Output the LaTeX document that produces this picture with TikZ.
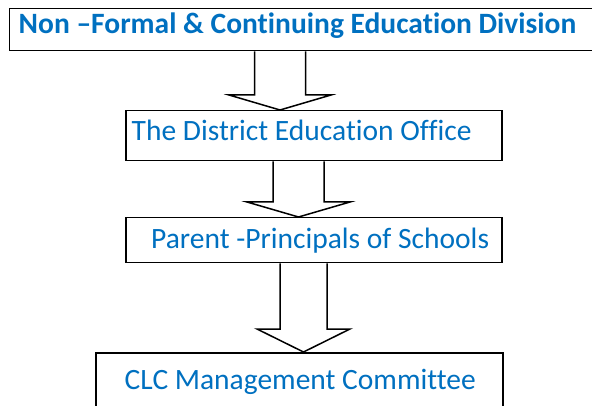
\documentclass[tikz,border=0pt]{standalone}
\usepackage{fontspec}
\setmainfont{Carlito}[Ligatures=NoCommon]
\usetikzlibrary{calc}
\usepackage{xcolor}
\definecolor{officeblue}{RGB}{0,112,192}

% hollow down arrow: source, target, centre x, half shaft, half head, head length
\newcommand{\blockarrow}[6]{%
  \coordinate (#1#2) at (#3,0);
  \draw[arrowline] ($(#1#2 |- #1.south)+(-#4,0)$)
    -- ($(#1#2 |- #2.north)+(-#4,-#6)$)
    -- ($(#1#2 |- #2.north)+(-#5,-#6)$)
    -- (#1#2 |- #2.north)
    -- ($(#1#2 |- #2.north)+(#5,-#6)$)
    -- ($(#1#2 |- #2.north)+(#4,-#6)$)
    -- ($(#1#2 |- #1.south)+(#4,0)$);}

\begin{document}
\begin{tikzpicture}[x=1pt, y=-1pt,
    box/.style={draw=black, line width=1.5pt, rectangle, anchor=north west, inner sep=0pt},
    boxtext/.style={anchor=base west, inner sep=0pt, text=officeblue, font=\fontsize{29.5}{34}\selectfont},
    arrowline/.style={draw=black, line width=1.5pt, line join=miter}]

      \useasboundingbox (0, 0) rectangle (592, 406);
      \clip (0, 0) rectangle (592, 406);

      \node[box, minimum width=592, minimum height=42] (div) at (8.5, 8) {};
      \node[box, minimum width=376, minimum height=50] (deo) at (125, 110) {};
      \node[box, minimum width=376, minimum height=45] (ppl) at (125, 217) {};
      \node[box, minimum width=407, minimum height=70] (clc) at (95, 352) {};

      \node[boxtext, font=\fontsize{29.5}{34}\selectfont\bfseries] (divtext) at ($(div.north west)+(10, 25.3)$) {Non –Formal \& Continuing Education Division};
      \node[boxtext] (deotext) at ($(deo.north west)+(6.5, 30.7)$) {The District Education Office};
      \node[boxtext] (ppltext) at ($(ppl.north west)+(26, 31.3)$) {Parent -Principals of Schools};
      \node[boxtext] (clctext) at ($(clc.north west)+(29.5, 37)$) {CLC Management Committee};

      \blockarrow{div}{deo}{280}{25.5}{51}{15}
      \blockarrow{deo}{ppl}{298.5}{25.5}{51.5}{15}
      \blockarrow{ppl}{clc}{303.5}{23.5}{46.5}{23}

\end{tikzpicture}
\end{document}
